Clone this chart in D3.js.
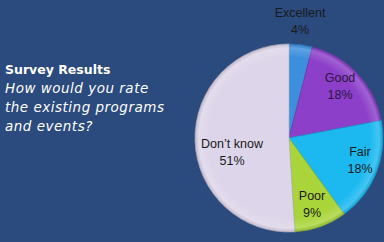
<!DOCTYPE html>
<html>
<head>
<style>
  html, body { margin: 0; padding: 0; background: #2b4a7d; }
  svg { display: block; }
</style>
</head>
<body>
<svg width="384" height="242"></svg>
<script src="https://d3js.org/d3.v7.min.js"></script>
<script>
  var categories = ["Excellent", "Good", "Fair", "Poor", "Don\u2019t know"];
  var values = [4, 18, 18, 9, 51];
  var colors = ["#3b8fdc", "#8c40c9", "#1cb9f0", "#a9d53b", "#ddd5e9"];
  var titleLines = ["How would you rate", "the existing programs", "and events?"];

  var svg = d3.select("svg"),
      width = +svg.attr("width"),
      height = +svg.attr("height");

  svg.append("rect").attr("width", width).attr("height", height).attr("fill", "#2b4a7d");

  // title block
  var t = svg.append("g").attr("font-family", "DejaVu Sans, sans-serif").attr("fill", "#ffffff");
  t.append("text")
      .attr("x", 5).attr("y", 74)
      .attr("font-size", 12.5).attr("font-weight", "bold")
      .text("Survey Results");
  t.selectAll(".sub")
    .data(titleLines)
    .enter().append("text")
      .attr("class", "sub")
      .attr("x", 5)
      .attr("y", function(d, i) { return 93 + i * 19; })
      .attr("font-size", 13.5).attr("font-style", "italic")
      .attr("letter-spacing", 0.5)
      .text(function(d) { return d; });

  // pie
  var cx = 289, cy = 138, r = 94;
  var data = categories.map(function(c, i) { return { name: c, value: values[i], color: colors[i] }; });

  var pie = d3.pie().sort(null).value(function(d) { return d.value; });
  var arc = d3.arc().innerRadius(0).outerRadius(r);

  var defs = svg.append("defs");
  var grad = defs.append("radialGradient").attr("id", "shade")
      .attr("cx", "50%").attr("cy", "50%").attr("r", "50%");
  grad.append("stop").attr("offset", "0%").attr("stop-color", "#fff").attr("stop-opacity", 0);
  grad.append("stop").attr("offset", "86%").attr("stop-color", "#fff").attr("stop-opacity", 0);
  grad.append("stop").attr("offset", "96%").attr("stop-color", "#fff").attr("stop-opacity", 0.18);
  grad.append("stop").attr("offset", "100%").attr("stop-color", "#000").attr("stop-opacity", 0.08);

  var g = svg.append("g").attr("transform", "translate(" + cx + "," + cy + ")");
  var arcs = pie(data);

  g.selectAll("path.slice")
    .data(arcs)
    .enter().append("path")
      .attr("class", "slice")
      .attr("d", arc)
      .attr("fill", function(d) { return d.data.color; })
      .attr("stroke", function(d) { return d3.color(d.data.color).darker(0.5); })
      .attr("stroke-width", 0.7);

  g.append("circle").attr("r", r).attr("fill", "url(#shade)");

  // label positions (dx, dy from centre)
  var labelPos = [[11, -121], [51, -56], [71, 18], [23, 62], [-57, 10]];
  var pct = d3.format(".0%");

  var lab = g.selectAll("g.lab")
    .data(arcs)
    .enter().append("g")
      .attr("class", "lab")
      .attr("transform", function(d, i) { return "translate(" + labelPos[i][0] + "," + labelPos[i][1] + ")"; })
      .attr("font-family", "Liberation Sans, Arial, sans-serif")
      .attr("font-size", 12.5)
      .attr("fill", function(d, i) { return i === 1 ? "#2a1440" : "#1a1a1a"; })
      .attr("text-anchor", "middle");

  lab.append("text").text(function(d) { return d.data.name; });
  lab.append("text").attr("y", 17).text(function(d) { return pct(d.data.value / 100); });
</script>
</body>
</html>
